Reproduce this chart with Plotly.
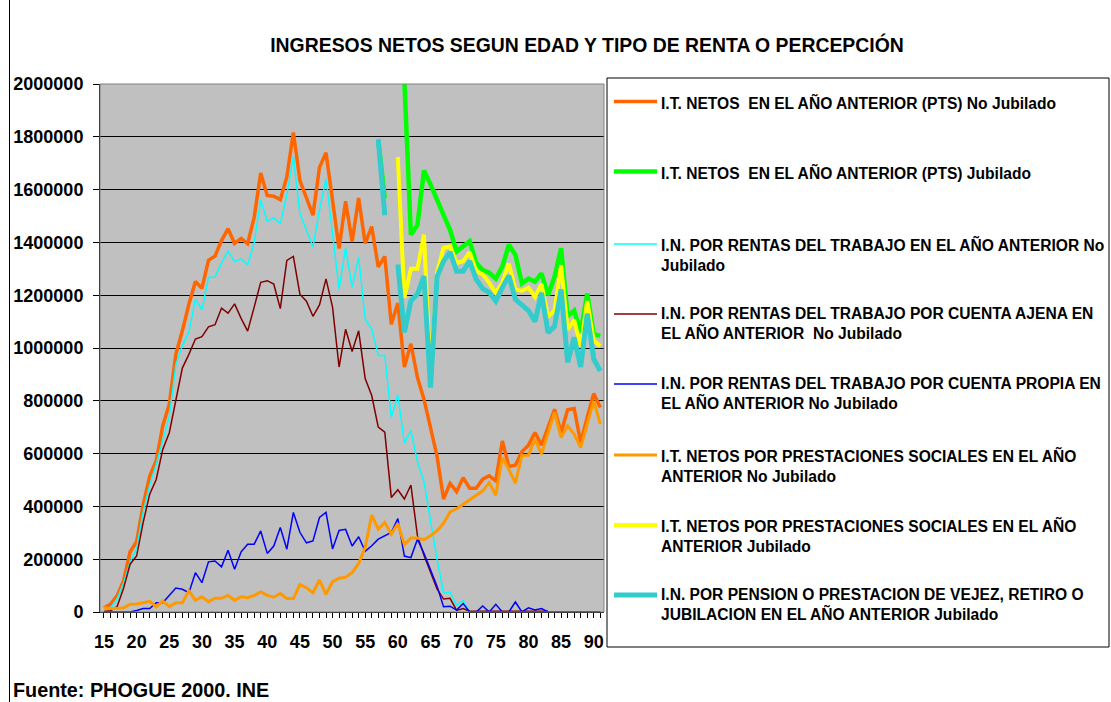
import plotly.graph_objects as go

# ---------------- data ----------------
ages = list(range(15, 92))
jub_ages = list(range(57, 92))
age_labels = [str(a) if a % 5 == 0 else "" for a in ages]

it_no_jub = [16000, 29000, 61000, 118000, 228000, 266000, 405000, 514000, 573000, 706000,
             787000, 976000, 1065000, 1166000, 1252000, 1226000, 1332000, 1348000, 1407000, 1452000,
             1396000, 1415000, 1395000, 1495000, 1663000, 1578000, 1575000, 1562000, 1648000, 1816000,
             1635000, 1566000, 1503000, 1684000, 1740000, 1560000, 1377000, 1556000, 1403000, 1568000,
             1396000, 1460000, 1307000, 1347000, 1090000, 1170000, 928000, 1016000, 889000, 806000,
             692000, 591000, 428000, 487000, 456000, 509000, 469000, 469000, 503000, 516000,
             497000, 648000, 551000, 556000, 607000, 632000, 680000, 632000, 699000, 768000,
             680000, 766000, 771000, 642000, 737000, 828000, 775000]

it_jub = [1790000, 1566000, None, None, 2010000, 1429000, 1466000, 1672000, 1620000, 1566000,
          1504000, 1447000, 1366000, 1385000, 1404000, 1322000, 1295000, 1285000, 1263000, 1308000,
          1391000, 1353000, 1245000, 1263000, 1251000, 1283000, 1200000, 1270000, 1378000, 1120000,
          1142000, 1058000, 1206000, 1052000, 1046000]

rt_no_jub = [10000, 15000, 50000, 110000, 190000, 240000, 380000, 480000, 560000, 650000,
             741000, 937000, 1009000, 1059000, 1184000, 1145000, 1267000, 1269000, 1322000, 1367000,
             1327000, 1338000, 1315000, 1398000, 1561000, 1480000, 1494000, 1471000, 1579000, 1725000,
             1509000, 1447000, 1383000, 1522000, 1641000, 1434000, 1223000, 1380000, 1230000, 1345000,
             1110000, 1072000, 972000, 972000, 738000, 823000, 641000, 687000, 570000, 494000,
             350000, 200000, 73000, 75000, 26000, 43000, 0, 0, 0, 0,
             0, 0, 0, 0, 0, 0, 0, 0, 0, 0,
             0, 0, 0, 0, 0, 0, 0]

ajena_no_jub = [2000, 5000, 20000, 90000, 181000, 212000, 339000, 446000, 502000, 616000,
                679000, 807000, 924000, 976000, 1034000, 1043000, 1080000, 1088000, 1151000, 1132000,
                1167000, 1112000, 1064000, 1155000, 1249000, 1255000, 1242000, 1149000, 1332000, 1347000,
                1204000, 1177000, 1120000, 1163000, 1262000, 1155000, 928000, 1071000, 987000, 1065000,
                884000, 820000, 700000, 681000, 434000, 463000, 428000, 481000, 289000, 215000,
                149000, 87000, 49000, 52000, 6000, 13000, 3000, 3000, 3000, 3000,
                3000, 3000, 3000, 3000, 3000, 3000, 3000, 3000, 3000, None,
                None, None, None, None, None, None, None]

propia_no_jub = [0, 0, 0, 0, 0, 6000, 13000, 13000, 35000, 35000,
                 61000, 91000, 86000, 73000, 149000, 111000, 190000, 193000, 171000, 234000,
                 162000, 228000, 257000, 257000, 307000, 222000, 250000, 320000, 238000, 377000,
                 302000, 262000, 269000, 358000, 377000, 239000, 309000, 313000, 250000, 285000,
                 230000, 251000, 276000, 289000, 301000, 354000, 212000, 206000, 276000, 222000,
                 158000, 98000, 20000, 22000, 7000, 32000, 0, 0, 23000, 0,
                 29000, 0, 0, 38000, 0, 16000, 8000, 13000, 0, 0,
                 0, 0, 0, 0, 0, 0, 0]

ps_no_jub = [16000, 13000, 13000, 16000, 29000, 30000, 35000, 40000, 20000, 42000,
             20000, 35000, 35000, 80000, 44000, 58000, 39000, 52000, 52000, 63000,
             44000, 58000, 54000, 63000, 76000, 63000, 56000, 70000, 51000, 51000,
             104000, 92000, 73000, 121000, 67000, 115000, 128000, 132000, 149000, 184000,
             245000, 367000, 314000, 339000, 295000, 335000, 255000, 280000, 280000, 274000,
             289000, 308000, 336000, 379000, 391000, 408000, 425000, 442000, 459000, 490000,
             442000, 585000, 541000, 488000, 594000, 594000, 655000, 598000, 680000, 756000,
             661000, 705000, 674000, 623000, 712000, 800000, 712000]

ps_jub = [None, None, None, 1723000, 1190000, 1300000, 1300000, 1429000, 900000, 1285000,
          1379000, 1385000, 1322000, 1329000, 1363000, 1291000, 1279000, 1247000, 1209000, 1248000,
          1319000, 1222000, 1216000, 1229000, 1193000, 1242000, 1118000, 1142000, 1313000, 1070000,
          1106000, 1004000, 1178000, 1028000, 1007000]

pension_jub = [1790000, 1503000, None, 1316000, 1060000, 1179000, 1204000, 1272000, 850000, 1270000,
               1329000, 1363000, 1291000, 1291000, 1329000, 1260000, 1225000, 1210000, 1178000, 1229000,
               1274000, 1184000, 1160000, 1142000, 1100000, 1209000, 1058000, 1082000, 1222000, 946000,
               1040000, 928000, 1130000, 958000, 913000]

series_names = [
    "I.T. NETOS\u00a0 EN EL AÑO ANTERIOR (PTS) No Jubilado",
    "I.T. NETOS\u00a0 EN EL AÑO ANTERIOR (PTS) Jubilado",
    "I.N. POR RENTAS DEL TRABAJO EN EL AÑO ANTERIOR No<br>Jubilado",
    "I.N. POR RENTAS DEL TRABAJO POR CUENTA AJENA EN<br>EL AÑO ANTERIOR\u00a0 No Jubilado",
    "I.N. POR RENTAS DEL TRABAJO POR CUENTA PROPIA EN<br>EL AÑO ANTERIOR No Jubilado",
    "I.T. NETOS POR PRESTACIONES SOCIALES EN EL AÑO<br>ANTERIOR No Jubilado",
    "I.T. NETOS POR PRESTACIONES SOCIALES EN EL AÑO<br>ANTERIOR Jubilado",
    "I.N. POR PENSION O PRESTACION DE VEJEZ, RETIRO O<br>JUBILACION EN EL AÑO ANTERIOR Jubilado",
]
series_x = [ages, jub_ages, ages, ages, ages, ages, jub_ages, jub_ages]
series_y = [it_no_jub, it_jub, rt_no_jub, ajena_no_jub, propia_no_jub, ps_no_jub, ps_jub, pension_jub]
colors = ["#FF6600", "#00FF00", "#00FFFF", "#800000", "#0000FF", "#FF9900", "#FFFF00", "#33CCCC"]
widths = [3.5, 4.5, 1.5, 1.5, 1.5, 3, 4, 5]

title_text = "INGRESOS NETOS SEGUN EDAD Y TIPO DE RENTA O PERCEPCIÓN"
source_text = "Fuente: PHOGUE 2000. INE"

# ---------------- layout helpers ----------------
W, H = 1111, 702
L, R, T, B = 100, 507, 84, 90
PW, PH = W - L - R, H - T - B
FONT = "Liberation Sans, Arial, sans-serif"


def px_x(px):
    return (px - L) / PW


def px_y(py):
    return (H - B - py) / PH


fig = go.Figure()
for xs, ys, name, c, w in zip(series_x, series_y, series_names, colors, widths):
    fig.add_trace(go.Scatter(x=xs, y=ys, mode="lines", name=name.replace("<br>", " "),
                             line=dict(color=c, width=w), connectgaps=False,
                             showlegend=False, hoverinfo="skip"))

shapes = []
annotations = []
# plot area border (gray)
shapes.append(dict(type="rect", xref="paper", yref="paper", x0=0, x1=1, y0=0, y1=1,
                   line=dict(color="#808080", width=1), layer="above"))
# chart frame left edge
shapes.append(dict(type="line", xref="paper", yref="paper", x0=px_x(9.5), x1=px_x(9.5),
                   y0=px_y(0), y1=px_y(702), line=dict(color="black", width=1)))
# legend box
shapes.append(dict(type="rect", xref="paper", yref="paper", x0=px_x(607), x1=px_x(1109),
                   y0=px_y(647), y1=px_y(78), line=dict(color="black", width=1),
                   fillcolor="white", layer="below"))
leg_y = [101.5, 171.5, 244, 314, 384, 455, 525, 595]
for name, c, w, yy in zip(series_names, colors, widths, leg_y):
    shapes.append(dict(type="line", xref="paper", yref="paper", x0=px_x(614), x1=px_x(657),
                       y0=px_y(yy), y1=px_y(yy), line=dict(color=c, width=w)))
    annotations.append(dict(text=name, xref="paper", yref="paper", x=px_x(659), y=px_y(yy - 11),
                            xanchor="left", yanchor="top", align="left", showarrow=False,
                            font=dict(family=FONT, size=15.6, color="black", weight="bold")))

annotations.append(dict(text=source_text, xref="paper", yref="paper", x=px_x(11), y=px_y(690),
                        xanchor="left", yanchor="middle", showarrow=False,
                        font=dict(family=FONT, size=19.8, color="black", weight="bold")))

fig.update_layout(
    width=W, height=H,
    margin=dict(l=L, r=R, t=T, b=B, pad=0),
    paper_bgcolor="white", plot_bgcolor="#C0C0C0",
    title=dict(text=title_text, x=px_x(587), xref="paper", xanchor="center",
               y=1 - 45 / H, yref="container", yanchor="middle",
               font=dict(family=FONT, size=19.4, color="black", weight="bold")),
    shapes=shapes, annotations=annotations,
    xaxis=dict(range=[14.39, 91.57], tickmode="array", tickvals=ages, ticktext=age_labels,
               ticks="outside", ticklen=5, tickcolor="black", tickwidth=1,
               showline=True, linecolor="black", linewidth=1, showgrid=False, zeroline=False,
               tickfont=dict(family=FONT, size=18, color="black", weight="bold"),
               ticklabelstandoff=8),
    yaxis=dict(range=[0, 2000000], tickmode="linear", tick0=0, dtick=200000, tickformat="d",
               ticks="outside", ticklen=6, tickcolor="black", tickwidth=1,
               showline=True, linecolor="black", linewidth=1,
               showgrid=True, gridcolor="black", gridwidth=1, zeroline=False,
               tickfont=dict(family=FONT, size=18, color="black", weight="bold"),
               ticklabelstandoff=6),
    showlegend=False,
)

fig.write_html("out.html", config={"displayModeBar": False},
               post_script="document.body.style.margin='0';")
